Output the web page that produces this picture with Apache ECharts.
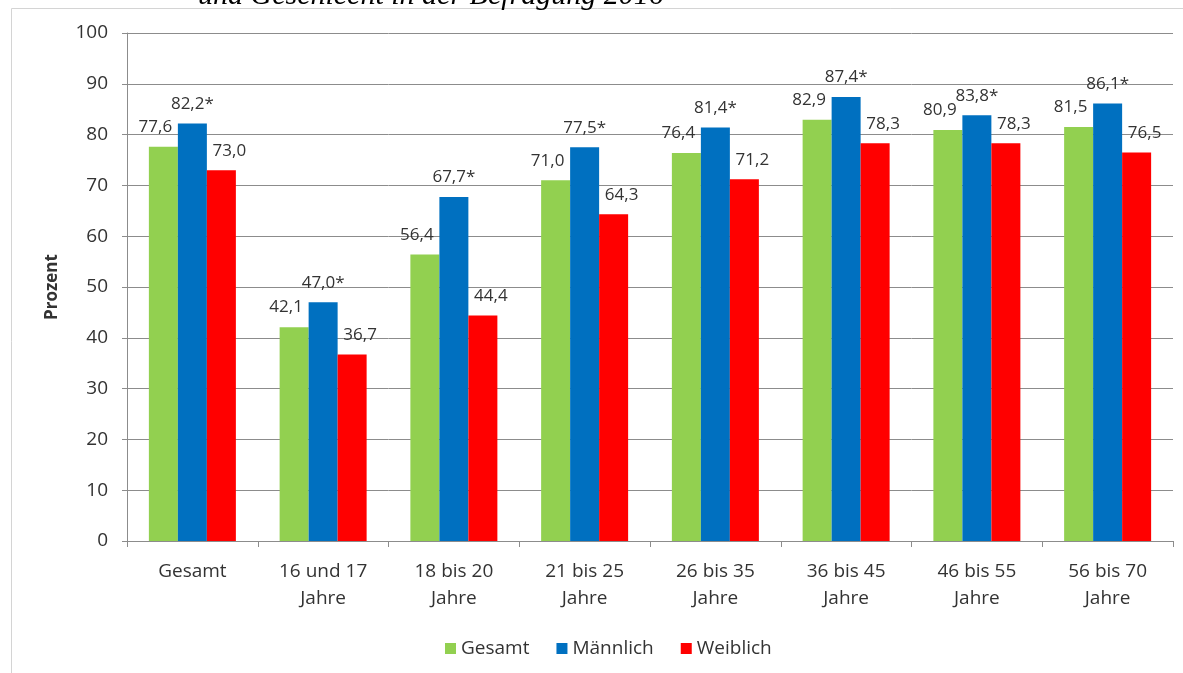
<!DOCTYPE html>
<html>
<head>
<meta charset="utf-8">
<script src="https://cdn.jsdelivr.net/npm/echarts@6/dist/echarts.min.js"></script>
<style>
  html, body { margin: 0; padding: 0; background: #ffffff; }
  #chart { width: 1183px; height: 673px; }
</style>
</head>
<body>
<div id="chart"></div>
<script>
// Altersgruppen (Kategorien der x-Achse)
const categories = [
  'Gesamt', '16 und 17\nJahre', '18 bis 20\nJahre', '21 bis 25\nJahre',
  '26 bis 35\nJahre', '36 bis 45\nJahre', '46 bis 55\nJahre', '56 bis 70\nJahre'
];
// Anteile in Prozent
const gesamt    = [77.6, 42.1, 56.4, 71.0, 76.4, 82.9, 80.9, 81.5];
const maennlich = [82.2, 47.0, 67.7, 77.5, 81.4, 87.4, 83.8, 86.1];
const weiblich  = [73.0, 36.7, 44.4, 64.3, 71.2, 78.3, 78.3, 76.5];
// Achsenbeschriftung
const yTicks = [0, 10, 20, 30, 40, 50, 60, 70, 80, 90, 100];

const FONT = '"Open Sans", "Liberation Sans", sans-serif';
const TEXT = '#333333';
const GRID = '#8c8c8c';

function fmt(suffix) {
  return p => p.value.toFixed(1).replace('.', ',') + suffix;
}

function barSeries(name, data, color, dx, suffix) {
  return {
    name: name,
    type: 'bar',
    data: data,
    barWidth: 29,
    barGap: '0%',
    itemStyle: { color: color },
    label: {
      show: true,
      position: 'top',
      distance: 11,
      offset: [dx, 0],
      formatter: fmt(suffix),
      fontFamily: FONT,
      fontSize: 17,
      color: TEXT
    }
  };
}

const chart = echarts.init(document.getElementById('chart'), null, { renderer: 'canvas' });

chart.setOption({
  animation: false,
  backgroundColor: '#ffffff',
  graphic: [
    {
      type: 'rect',
      silent: true,
      shape: { x: 11.5, y: 8.5, width: 1220, height: 720 },
      style: { fill: 'none', stroke: '#d4d4d4', lineWidth: 1 }
    },
    {
      type: 'text',
      silent: true,
      x: 198,
      y: 11,
      style: {
        text: 'und Geschlecht in der Befragung 2016',
        font: 'italic 30px "Liberation Serif", "DejaVu Serif", serif',
        fill: '#000000',
        verticalAlign: 'bottom',
        align: 'left'
      }
    }
  ],
  grid: { left: 127, right: 10, top: 33, bottom: 132, containLabel: false },
  legend: {
    left: 440,
    top: 634,
    itemWidth: 11,
    itemHeight: 11,
    itemGap: 27,
    icon: 'rect',
    textStyle: { fontFamily: FONT, fontSize: 19, color: TEXT },
    data: ['Gesamt', 'Männlich', 'Weiblich']
  },
  xAxis: {
    type: 'category',
    data: categories,
    axisLine: { show: true, lineStyle: { color: GRID, width: 1 } },
    axisTick: { show: true, length: 6, lineStyle: { color: GRID } },
    axisLabel: {
      fontFamily: FONT,
      fontSize: 19,
      color: TEXT,
      margin: 17,
      lineHeight: 27,
      interval: 0
    }
  },
  yAxis: {
    type: 'value',
    min: yTicks[0],
    max: yTicks[yTicks.length - 1],
    interval: 10,
    name: 'Prozent',
    nameLocation: 'middle',
    nameGap: 66,
    nameRotate: 90,
    nameTextStyle: { fontFamily: FONT, fontSize: 17, fontWeight: 'bold', color: TEXT },
    axisLine: { show: true, lineStyle: { color: GRID, width: 1 } },
    axisTick: { show: true, length: 5, lineStyle: { color: GRID } },
    axisLabel: { fontFamily: FONT, fontSize: 19, color: TEXT, margin: 19 },
    splitLine: { show: true, lineStyle: { color: GRID, width: 1 } }
  },
  series: [
    barSeries('Gesamt', gesamt, '#92D050', -8, ''),
    barSeries('Männlich', maennlich, '#0070C0', 0, '*'),
    barSeries('Weiblich', weiblich, '#FF0000', 8, '')
  ]
});
</script>
</body>
</html>
